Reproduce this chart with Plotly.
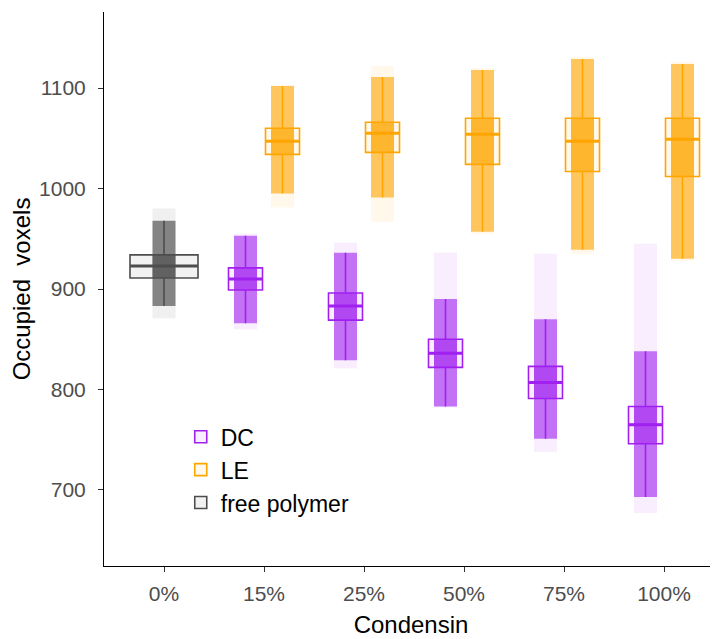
import plotly.graph_objects as go

# ---------------- data ----------------
categories = ["0%", "15%", "25%", "50%", "75%", "100%"]

# DC: categories 15%..100%
dc_cats = ["15%", "25%", "50%", "75%", "100%"]
dc_min = [860, 821, 782, 738, 677]
dc_lo = [866, 829, 783, 751, 693]
dc_q1 = [899, 869, 822, 791, 746]
dc_med = [910, 883, 836, 807, 765]
dc_q3 = [921, 896, 850, 823, 783]
dc_hi = [953, 936, 890, 870, 838]
dc_max = [955, 946, 936, 935, 945]

# LE: categories 15%..100%
le_cats = ["15%", "25%", "50%", "75%", "100%"]
le_min = [981, 967, 955, 935, 928]
le_lo = [995, 991, 957, 939, 930]
le_q1 = [1034, 1036, 1024, 1017, 1012]
le_med = [1047, 1055, 1054, 1047, 1049]
le_q3 = [1060, 1066, 1070, 1070, 1070]
le_hi = [1102, 1111, 1118, 1129, 1124]
le_max = [1103, 1122, 1120, 1131, 1126]

# free polymer: 0% only
fp_cats = ["0%"]
fp_min = [871]
fp_lo = [883]
fp_q1 = [911]
fp_med = [923]
fp_q3 = [934]
fp_hi = [968]
fp_max = [980]

y_ticks = [700, 800, 900, 1000, 1100]

# ---------------- styling ----------------
FONT = "Liberation Sans, Arial, Helvetica, sans-serif"
colors = {"DC": (160, 32, 240), "LE": (255, 165, 0), "free polymer": (77, 77, 77)}
cloud_colors = {"DC": (160, 32, 240), "LE": (255, 165, 0), "free polymer": (60, 60, 60)}


def rgba(c, a):
    return f"rgba({c[0]},{c[1]},{c[2]},{a})"


groups = [
    ("DC", dc_cats, dc_min, dc_lo, dc_q1, dc_med, dc_q3, dc_hi, dc_max, -0.185, 0.34),
    ("LE", le_cats, le_min, le_lo, le_q1, le_med, le_q3, le_hi, le_max, 0.185, 0.34),
    ("free polymer", fp_cats, fp_min, fp_lo, fp_q1, fp_med, fp_q3, fp_hi, fp_max, 0.0, 0.68),
]

JITTER_W = 0.23

fig = go.Figure()

# point clouds (density bands) - drawn first
for name, cats, mn, lo, q1, med, q3, hi, mx, off, bw in groups:
    xs = [categories.index(c) + 1 + off for c in cats]
    cc = cloud_colors[name]
    for a, b, alpha in [(mn, mx, 0.08), (lo, hi, 0.6), (q1, q3, 0.45)]:
        fig.add_trace(go.Bar(
            x=xs, base=a, y=[bb - aa for aa, bb in zip(a, b)],
            width=JITTER_W, marker=dict(color=rgba(cc, alpha), line=dict(width=0)),
            showlegend=False, hoverinfo="skip"))

# boxes
for name, cats, mn, lo, q1, med, q3, hi, mx, off, bw in groups:
    xs = [categories.index(c) + 1 + off for c in cats]
    c = colors[name]
    fig.add_trace(go.Box(
        x=xs, q1=q1, median=med, q3=q3, lowerfence=lo, upperfence=hi,
        width=bw, name=name, boxpoints=False, whiskerwidth=0,
        fillcolor=rgba(c, 0.07), line=dict(color=rgba(c, 1), width=1.6),
        showlegend=True))

# thicker median lines (as in ggplot)
for name, cats, mn, lo, q1, med, q3, hi, mx, off, bw in groups:
    xs = [categories.index(c) + 1 + off for c in cats]
    lx, ly = [], []
    for x, m in zip(xs, med):
        lx += [x - bw / 2, x + bw / 2, None]
        ly += [m, m, None]
    fig.add_trace(go.Scatter(x=lx, y=ly, mode="lines",
                             line=dict(color=rgba(colors[name], 1), width=3),
                             showlegend=False, hoverinfo="skip"))

axis_common = dict(
    showline=True, linecolor="black", linewidth=1, mirror=False,
    ticks="outside", ticklen=5, tickcolor="#333333", tickwidth=1,
    showgrid=False, zeroline=False,
    tickfont=dict(family=FONT, size=21, color="#4D4D4D"),
)

fig.update_layout(
    width=710, height=631,
    margin=dict(l=96, r=0, t=4, b=73),
    plot_bgcolor="white", paper_bgcolor="white",
    barmode="overlay", boxmode="overlay",
    font=dict(family=FONT),
    xaxis=dict(range=[0.4, 6.54], tickvals=list(range(1, len(categories) + 1)),
               ticktext=categories, ticklabelstandoff=4,
               title=dict(text="Condensin", font=dict(family=FONT, size=24, color="black"),
                          standoff=11),
               **axis_common),
    yaxis=dict(range=[624.3, 1175.7], tickvals=y_ticks,
               ticktext=[str(v) for v in y_ticks], ticklabelstandoff=8,
               title=dict(text="Occupied\u00a0 voxels", font=dict(family=FONT, size=24, color="black"),
                          standoff=4),
               **axis_common),
    legend=dict(x=0.125, y=0.272, xanchor="left", yanchor="top",
                bgcolor="rgba(0,0,0,0)", font=dict(family=FONT, size=23, color="black"),
                traceorder="normal"),
)

fig.write_html("out.html")
